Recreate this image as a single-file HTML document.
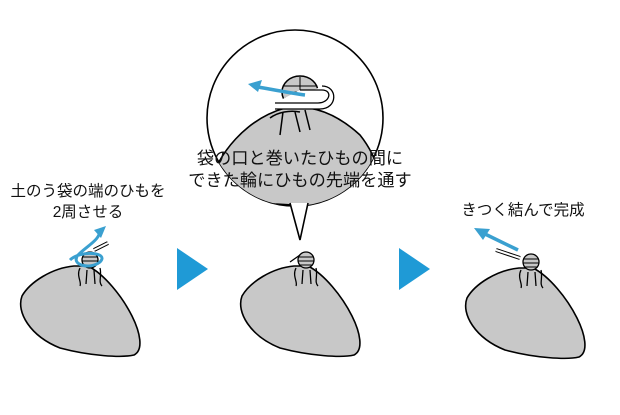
<!DOCTYPE html>
<html><head><meta charset="utf-8"><style>
body{margin:0;background:#fff;width:620px;height:415px;overflow:hidden}
svg{display:block}
text{font-family:"Liberation Sans","Noto Sans CJK JP",sans-serif;font-size:15.5px;fill:#111}
.c{font-size:17.2px}
</style></head><body>
<svg width="620" height="415" viewBox="0 0 620 415">
<defs>
<path id="bag" d="M-8,2 C-30,4 -52,18 -60,32 C-66,48 -52,72 -22,84 C8,92 40,94 52,91 C62,86 58,68 50,52 C40,32 22,10 6,2 Z" fill="#c8c8c8" stroke="#000" stroke-width="1.6"/>
<g id="knot">
<path d="M-10,0 C-14,8 -8,14 -10,18 M10,0 C12,8 8,14 12,18 M-3,2 L-4,16 M4,2 L5,16" stroke="#000" stroke-width="1.3" fill="none"/>
<circle cx="0" cy="-8" r="8" fill="#c8c8c8" stroke="#000" stroke-width="1.3"/>
<path d="M-7,-11 H7 M-8,-7 H8 M-7,-3 H7" stroke="#000" stroke-width="1"/>
</g>
<clipPath id="cc"><circle cx="295" cy="118" r="88"/></clipPath>
</defs>
<!-- bubble -->
<circle cx="295" cy="118" r="88" fill="#fff" stroke="#000" stroke-width="1.6"/>
<g clip-path="url(#cc)">
<path d="M205,200 C215,150 250,118 285,108 C310,104 335,112 360,135 C380,160 385,190 380,210 Z" fill="#c8c8c8" stroke="#000" stroke-width="1.6"/>
</g>
<path d="M290,203 L300,240 L308,203 Z" fill="#fff"/>
<path d="M290,203 L300,240 L308,203" fill="none" stroke="#000" stroke-width="1.6"/>
<path d="M283,112 L280,135 M295,112 L300,132 M305,110 L310,130 M270,118 C278,112 290,110 300,112" stroke="#000" stroke-width="1.5" fill="none"/>
<ellipse cx="300" cy="92" rx="18" ry="16" fill="#c8c8c8" stroke="#000" stroke-width="1.5"/>
<path d="M284,86 H316 M283,92 H317 M285,98 H315 M300,77 V107" stroke="#000" stroke-width="1"/>
<path d="M275,103 H318 C330,103 333,90 322,90 H300 M275,109 H320 C338,109 338,86 322,86" stroke="#000" stroke-width="1.3" fill="#fff"/>
<path d="M305,95 C290,93 275,90 258,87" stroke="#3aa0d0" stroke-width="3.5" fill="none"/>
<path d="M248,84 L262,80 L258,92 Z" fill="#3aa0d0"/>
<!-- bags -->
<use href="#bag" transform="translate(82,264)"/>
<use href="#knot" transform="translate(90,268)"/>
<use href="#bag" transform="translate(302,264)"/>
<use href="#knot" transform="translate(306,268)"/>
<use href="#bag" transform="translate(527,266)"/>
<use href="#knot" transform="translate(531,270)"/>
<!-- extras -->
<path d="M70,260 C80,250 110,252 100,262 C90,270 70,265 78,255 C88,245 100,240 100,230" stroke="#3aa0d0" stroke-width="3" fill="none"/>
<path d="M94,230 L106,226 L101,238 Z" fill="#3aa0d0"/>
<path d="M94,250 L108,243" stroke="#000" stroke-width="4"/><path d="M94,250 L108,243" stroke="#fff" stroke-width="2"/>
<path d="M290,262 L300,255" stroke="#000" stroke-width="1.3"/>
<path d="M520,258 L496,250" stroke="#000" stroke-width="4"/><path d="M520,258 L496,250" stroke="#fff" stroke-width="2"/>
<path d="M518,250 L485,234" stroke="#3aa0d0" stroke-width="3.5"/>
<path d="M474,228 L490,229 L483,240 Z" fill="#3aa0d0"/>
<!-- arrows -->
<path d="M177,248 L208,269 L177,290 Z" fill="#1f9ad6"/>
<path d="M399,248 L430,269 L399,290 Z" fill="#1f9ad6"/>
<!-- text -->
<text class="c" x="300" y="164" text-anchor="middle">袋の口と巻いたひもの間に</text>
<text class="c" x="300" y="186" text-anchor="middle">できた輪にひもの先端を通す</text>
<text x="88" y="196" text-anchor="middle">土のう袋の端のひもを</text>
<text x="88" y="217" text-anchor="middle">2周させる</text>
<text x="523" y="215" text-anchor="middle">きつく結んで完成</text>
</svg>
</body></html>
